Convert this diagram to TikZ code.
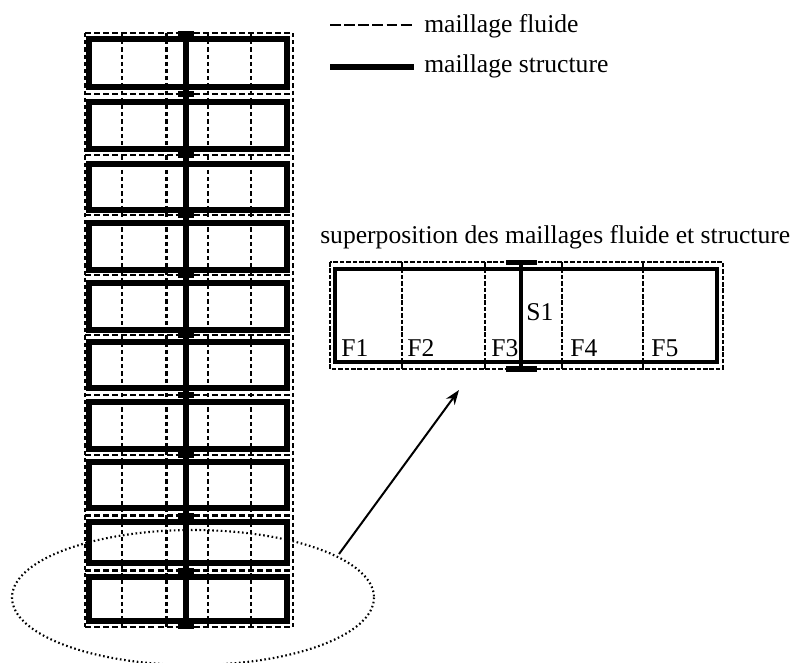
\documentclass[tikz,border=0pt]{standalone}
\usepackage{fontspec}
\setmainfont{Liberation Serif}
\usetikzlibrary{arrows.meta}
\tikzset{
  fluide/.style={line width=1.6pt,dash pattern=on 4.5pt off 2.3pt},
  fluidev/.style={line width=1.6pt,dash pattern=on 3.2pt off 2.2pt},
  fluidefin/.style={line width=1pt,dash pattern=on 3.4pt off 1.4pt},
  structure/.style={line width=3.9pt},
  structfin/.style={line width=3pt},
  lab/.style={inner sep=0pt,anchor=base west,font=\fontsize{19.2pt}{22pt}\selectfont},
  loupe/.style={line width=1.6pt,dash pattern=on 1.2pt off 2pt}
}
\begin{document}
\begin{tikzpicture}[x=0.75pt,y=-0.75pt]
\useasboundingbox (0,0) rectangle (793,662);
\clip (0,0) rectangle (793,662);
% colonne de mailles
\foreach \t/\b in {39/87,102/149,164/210,223/270,283/330,342/388,402/449,462/508,522/563,577/621}{
  \draw[structure] (89,\t) rectangle (287,\b);
}
\foreach \x in {122,166.5,208,251}{
  \draw[fluidev] (\x,33) -- (\x,627);
}
\draw[fluidev] (85,33) -- (85,627);
\draw[fluidev] (293,33) -- (293,627);
\foreach \y in {33,94,155,215,275,335,395,455,515.5,570.5,627}{
  \draw[fluide] (85,\y) -- (293,\y);
}
\foreach \y in {94,155,215,275,335,395,455,515.5,570.5}{
  \fill (178,\y-3) rectangle (194,\y+3);
}
\fill (178,31) rectangle (194,38);
\fill (178,622) rectangle (194,629);
\draw[structure] (186,33) -- (186,627);
% ellipse
\draw[loupe] (193,597.5) ellipse (181 and 67.5);
% legende
\coordinate (la) at (330,25); \coordinate (lb) at (414,25);
\coordinate (lc) at (330,67); \coordinate (ld) at (414,67);
\draw[line width=1.1pt,dash pattern=on 8.2pt off 2.4pt] (la) -- (lb);
\draw[structure] (lc) -- (ld);
\node[lab] (t1) at (424,32) {maillage fluide};
\node[lab] (t2) at (424,72) {maillage structure};
% superposition
\node[lab] (t3) at (320,243) {superposition des maillages fluide et structure};
\draw[fluidefin] (330,262) rectangle (723,369);
\foreach \x in {402,485,562,643}{
  \draw[fluidefin] (\x,262) -- (\x,369);
}
\draw[structfin] (335,269) rectangle (717,362);
\draw[structfin] (521,263) -- (521,369);
\fill (506,259.5) rectangle (537,265);
\fill (506,366) rectangle (537,372);
\node[lab] (f1) at (341,356) {F1};
\node[lab] (f2) at (407,356) {F2};
\node[lab] (f3) at (491,356) {F3};
\node[lab] (f4) at (570,356) {F4};
\node[lab] (f5) at (651,356) {F5};
\node[lab] (s1) at (526,320.5) {S1};
% fleche
\coordinate (fa) at (339,554); \coordinate (fb) at (459,390);
\draw[line width=1.5pt,-{Stealth[length=11pt,width=8pt]}] (fa) -- (fb);
\end{tikzpicture}
\end{document}
